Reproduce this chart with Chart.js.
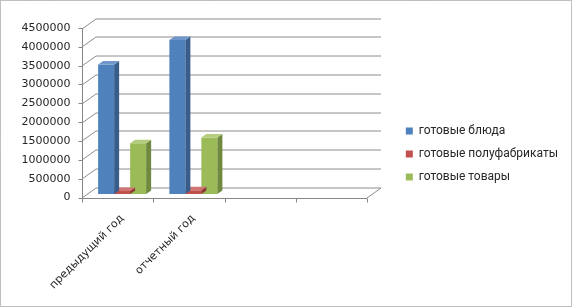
<!DOCTYPE html>
<html>
<head>
<meta charset="utf-8">
<script src="https://cdn.jsdelivr.net/npm/chart.js@4/dist/chart.umd.min.js"></script>
<style>
  html, body { margin: 0; padding: 0; background: #fff; }
  #wrap { width: 573px; height: 308px; }
</style>
</head>
<body>
<div id="wrap"><canvas id="chart" width="573" height="308"></canvas></div>
<script>
const categories = ['предыдущий год', 'отчетный год', '', ''];
const seriesNames = ['готовые блюда', 'готовые полуфабрикаты', 'готовые товары'];
const dishes = [3440000, 4090000, null, null];
const semis = [80000, 100000, null, null];
const goods = [1350000, 1500000, null, null];
const yTicks = [0, 500000, 1000000, 1500000, 2000000, 2500000, 3000000, 3500000, 4000000, 4500000];

// colours: front, side, top
const palette = [
    ['#4f81bd', '#385d8a', '#7097cb'],
    ['#c0504d', '#8c3836', '#d07572'],
    ['#9bbb59', '#71893f', '#b3cc7e']
];

// depth offsets from the bar plane
const front = { x: -4.5, y: 3.5 };
const back = { x: 9.5, y: -6.5 };
const barDepth = { x: 5, y: 3.5 };
const axisColor = '#868686';
const gridColor = '#8c8c8c';
const plotRight = 371.5;
const padRight = 5;

Chart.defaults.font.family = '"DejaVu Sans", sans-serif';
Chart.defaults.font.size = 11;
Chart.defaults.color = '#262626';

const walls = {
    id: 'walls',
    beforeDraw(chart) {
        const ctx = chart.ctx;
        ctx.save();
        ctx.strokeStyle = '#7f7f7f';
        ctx.lineWidth = 1;
        ctx.setLineDash([1, 1]);
        ctx.strokeRect(0.5, 0.5, 571, 306);
        ctx.restore();
    },
    beforeDatasetsDraw(chart) {
        const ctx = chart.ctx;
        const area = chart.chartArea;
        const ys = chart.scales.y;
        const y0 = ys.getPixelForValue(0);
        const yMax = ys.getPixelForValue(yTicks[yTicks.length - 1]);
        ctx.save();
        ctx.lineWidth = 1;
        // back wall gridlines and left wall diagonals
        ctx.strokeStyle = gridColor;
        yTicks.forEach(v => {
            const py = Math.round(ys.getPixelForValue(v)) + 0.5;
            ctx.beginPath();
            ctx.moveTo(area.left + front.x, py + front.y);
            ctx.lineTo(area.left + back.x, py + back.y);
            ctx.lineTo(area.right + back.x, py + back.y);
            ctx.stroke();
        });
        // right floor edge
        ctx.beginPath();
        ctx.moveTo(area.right + front.x, Math.round(y0) + 0.5 + front.y);
        ctx.lineTo(area.right + back.x, Math.round(y0) + 0.5 + back.y);
        ctx.stroke();
        // front axes
        ctx.strokeStyle = axisColor;
        const ax = Math.round(area.left + front.x) + 0.5;
        const fy0 = Math.round(y0 + front.y) + 0.5;
        ctx.beginPath();
        ctx.moveTo(ax, Math.round(yMax + front.y));
        ctx.lineTo(ax, fy0);
        ctx.lineTo(area.right + front.x, fy0);
        ctx.stroke();
        yTicks.forEach(v => {
            const py = Math.round(ys.getPixelForValue(v) + front.y) + 0.5;
            ctx.beginPath();
            ctx.moveTo(ax - 4, py);
            ctx.lineTo(ax, py);
            ctx.stroke();
        });
        const step = (area.right - area.left) / categories.length;
        for (let i = 0; i <= categories.length; i++) {
            const px = Math.round(area.left + front.x + i * step) + 0.5;
            ctx.beginPath();
            ctx.moveTo(px, fy0);
            ctx.lineTo(px, fy0 + 4);
            ctx.stroke();
        }
        ctx.restore();
    },
    afterDatasetDraw(chart, args) {
        const ctx = chart.ctx;
        const cols = palette[args.index];
        const values = chart.data.datasets[args.index].data;
        const meta = chart.getDatasetMeta(args.index);
        ctx.save();
        meta.data.forEach((bar, i) => {
            if (values[i] == null) return;
            const { x, y, base, width } = bar.getProps(['x', 'y', 'base', 'width'], true);
            const l = x - width / 2, r = x + width / 2;
            // side
            ctx.fillStyle = cols[1];
            ctx.beginPath();
            ctx.moveTo(r, y);
            ctx.lineTo(r + barDepth.x, y - barDepth.y);
            ctx.lineTo(r + barDepth.x, base - barDepth.y);
            ctx.lineTo(r, base);
            ctx.closePath();
            ctx.fill();
            // top
            ctx.fillStyle = cols[2];
            ctx.beginPath();
            ctx.moveTo(l, y);
            ctx.lineTo(l + barDepth.x, y - barDepth.y);
            ctx.lineTo(r + barDepth.x, y - barDepth.y);
            ctx.lineTo(r, y);
            ctx.closePath();
            ctx.fill();
        });
        ctx.restore();
    }
};

new Chart(document.getElementById('chart'), {
    type: 'bar',
    data: {
        labels: categories,
        datasets: [
            { label: seriesNames[0], data: dishes, backgroundColor: palette[0][0] },
            { label: seriesNames[1], data: semis, backgroundColor: palette[1][0] },
            { label: seriesNames[2], data: goods, backgroundColor: palette[2][0] }
        ]
    },
    options: {
        responsive: false,
        animation: false,
        events: [],
        barPercentage: 1,
        categoryPercentage: 0.674,
        layout: { padding: { left: 0, top: 0, right: padRight, bottom: 0 } },
        plugins: {
            tooltip: { enabled: false },
            legend: {
                position: 'right',
                maxWidth: 220,
                labels: {
                    boxWidth: 7, boxHeight: 7, padding: 11, color: '#262626',
                    font: { family: 'Roboto, sans-serif', size: 12 }
                }
            }
        },
        scales: {
            x: {
                grid: { display: false, drawTicks: false },
                border: { display: false },
                ticks: { autoSkip: false, minRotation: 45, maxRotation: 45, padding: 18 },
                afterFit(s) { s.height = 114; }
            },
            y: {
                min: 0,
                max: 4500000 * 194 / 169.5,
                grid: { display: false, drawTicks: false },
                border: { display: false },
                afterBuildTicks(s) { s.ticks = yTicks.map(v => ({ value: v })); },
                ticks: { padding: 16, labelOffset: 3.5, callback: v => String(v) },
                afterFit(s) {
                    s.width = 86.5;
                    s.paddingTop = 0;
                    s.paddingBottom = 0;
                }
            },
            gap: {
                position: 'right',
                min: 0,
                max: 1,
                grid: { display: false, drawTicks: false },
                border: { display: false },
                ticks: { display: false },
                afterFit(s) {
                    const lg = s.chart.legend;
                    s.width = Math.max(0, s.chart.width - padRight - (lg ? lg.width : 0) - plotRight);
                }
            }
        }
    },
    plugins: [walls]
});
</script>
</body>
</html>
